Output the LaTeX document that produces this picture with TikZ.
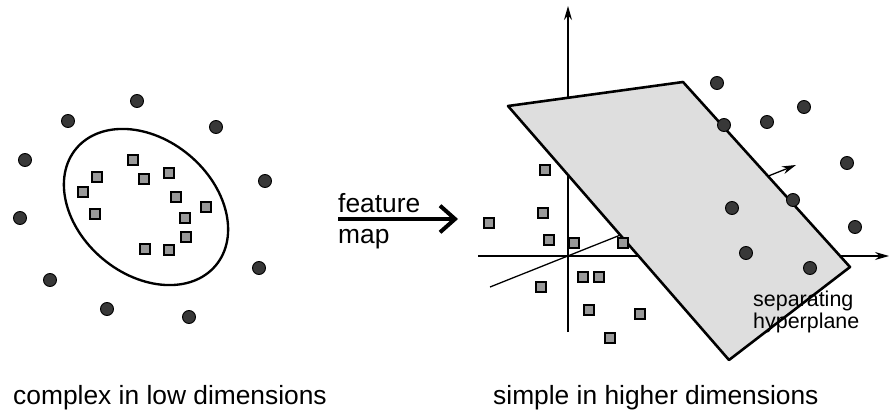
\documentclass[tikz,border=0pt]{standalone}
\usepackage{fontspec}
\setmainfont{Liberation Sans}
\usetikzlibrary{arrows.meta}

\tikzset{
  dot/.style={circle, draw=black, line width=0.8pt, fill=black!78, minimum size=3.9mm, inner sep=0pt},
  sqr/.style={rectangle, draw=black, line width=1.3pt, fill=black!40, minimum size=3mm, inner sep=0pt},
  axis/.style={line width=1.1pt, -{Stealth[length=4.2mm, width=2.4mm]}},
  lbl/.style={font=\fontsize{22.5}{27}\selectfont, inner sep=0pt},
  small lbl/.style={font=\fontsize{18.3}{18.7}\selectfont, inner sep=0pt, align=left},
}

\begin{document}
\begin{tikzpicture}[x=0.3mm, y=-0.3mm]
    \useasboundingbox (0,0) rectangle (889,416);

    % Input space
    \draw[line width=2pt, shift={(146,207)}, rotate=-40] (0,0) ellipse [x radius=91, y radius=67.5];
    \foreach \p [count=\i] in {(137,101), (68,121), (216,127), (25,160), (265,181),
                               (20,218), (259,268), (50,280), (107,309), (189,317)}
        \node[dot] (lc\i) at \p {};
    \foreach \p [count=\i] in {(133,160), (97,177), (144,179), (169,173), (83,192), (176,197),
                               (206,207), (95,214), (185,218), (186,237), (145,249), (169,250)}
        \node[sqr] (ls\i) at \p {};
    \node[lbl, anchor=base west] (lowdim) at (13,404) {complex in low dimensions};

    % Feature map
    \node[lbl, anchor=base west] (feat) at (338,212) {feature};
    \node[lbl, anchor=base west] (fmap) at (338,243) {map};
    \coordinate (fa) at (338,219);
    \coordinate (fb) at (458,219);
    \draw[line width=3.4pt, -{Straight Barb[length=4.5mm, width=8mm]}] (fa) -- (fb);

    % Feature space
    \coordinate (o) at (568,256);
    \coordinate (zlo) at (568,332);
    \coordinate (ztop) at (568,6);
    \coordinate (xlo) at (478,256);
    \coordinate (xtop) at (889,256);
    \coordinate (ylo) at (490,287);
    \coordinate (ytop) at (796,165);
    \draw[axis] (zlo) -- (ztop);
    \draw[axis] (xlo) -- (xtop);
    \draw[axis] (ylo) -- (ytop);

    % Hyperplane
    \coordinate (h1) at (508,106);
    \coordinate (h2) at (683,82);
    \coordinate (h3) at (850,267);
    \coordinate (h4) at (729,360);
    \filldraw[fill=black!13, draw=black, line width=2.2pt, line join=round] (h1) -- (h2) -- (h3) -- (h4) -- cycle;

    \foreach \p [count=\i] in {(545,170), (489,223), (543,213), (549,240), (574,243), (623,243),
                               (583,277), (599,277), (541,287), (589,310), (640,314), (610,338)}
        \node[sqr] (rs\i) at \p {};
    \foreach \p [count=\i] in {(717,83), (804,107), (767,122), (724,125), (847,163),
                               (793,200), (732,208), (855,227), (746,253), (810,268)}
        \node[dot] (rc\i) at \p {};

    \node[small lbl, anchor=base west] (sep) at (753,328) {separating\\hyperplane};
    \node[lbl, anchor=base west] (highdim) at (493,404) {simple in higher dimensions};
\end{tikzpicture}
\end{document}
